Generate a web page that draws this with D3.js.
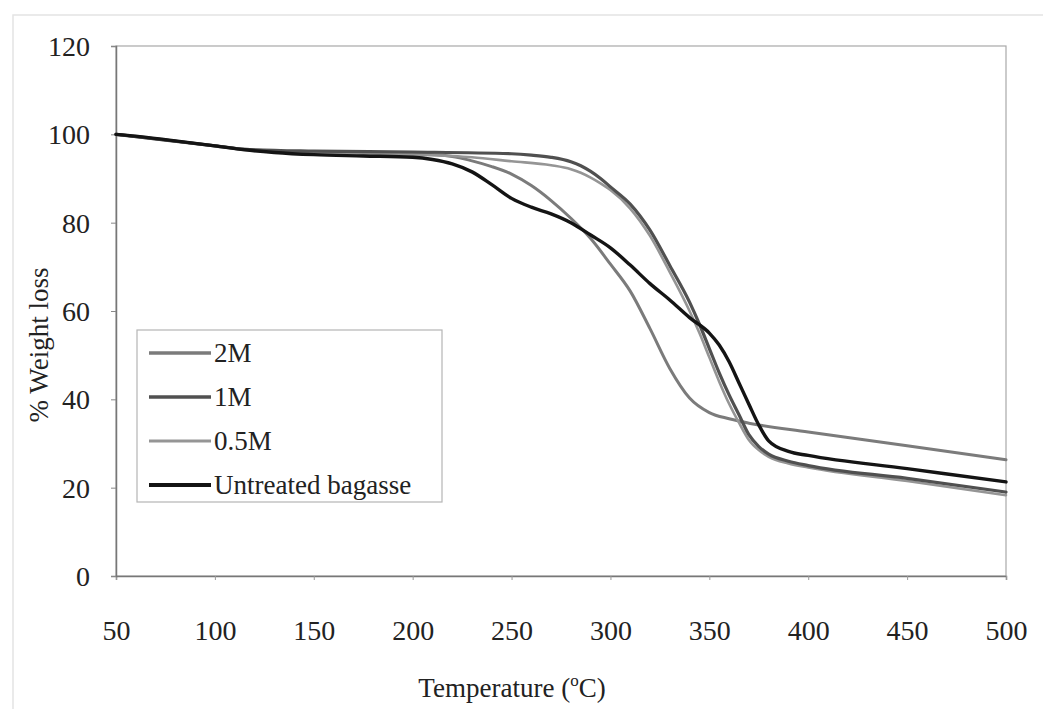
<!DOCTYPE html>
<html><head><meta charset="utf-8">
<script src="https://cdn.jsdelivr.net/npm/d3@7"></script>
<style>body{margin:0;background:#fff}svg{display:block}</style>
</head><body>
<svg id="chart" width="1043" height="709"></svg>
<script>
const xTicks = [50,100,150,200,250,300,350,400,450,500];
const yTicks = [0,20,40,60,80,100,120];
const seriesNames = ["2M","1M","0.5M","Untreated bagasse"];

const tempUntreated = [50,60,75,100,115,130,150,175,200,210,220,230,240,250,260,270,280,290,300,310,320,330,340,350,355,360,365,370,375,380,390,400,450,500];
const wUntreated    = [100,99.6,98.8,97.4,96.5,95.9,95.4,95.1,94.8,94.3,93.3,91.5,88.6,85.5,83.5,82,80,77.2,74.3,70.4,66.2,62.5,58.5,55,52.3,48.5,43.7,38.9,34.2,30.6,28.2,27.3,24.3,21.3];

const temp2M = [50,75,100,115,150,200,220,230,240,250,260,270,280,290,300,310,320,330,340,350,360,370,400,450,500];
const w2M    = [100,98.7,97.4,96.6,96,95.6,95,94,92.7,91,88.4,85,81,76.4,70.6,64.5,56,47,40.3,37,35.6,34.6,32.6,29.5,26.3];

const temp1M = [50,75,100,115,150,200,250,260,270,280,285,290,295,300,310,320,330,340,345,350,355,360,365,370,375,380,390,400,450,500];
const w1M    = [100,98.7,97.4,96.6,96.2,96,95.6,95.3,94.8,93.8,92.9,91.6,90,88.1,84.2,78.3,70.3,62,57,51.5,46,41,36.5,32,29.3,27.6,26,25,22.1,19];

const temp05M = [50,75,100,115,150,200,230,250,270,280,285,290,295,300,310,320,330,340,345,350,355,360,365,370,375,380,390,400,450,500];
const w05M    = [100,98.7,97.4,96.6,95.8,95.4,94.8,93.9,93,92.1,91.3,90.2,88.9,87.4,83.2,77,68.8,60,55,49.5,44,39,34.7,30.8,28.5,27,25.5,24.6,21.5,18.3];

const colors = ["#7b7b7b","#505050","#959595","#141414"];
const widths = [3,3.2,2.6,3.4];
const seriesT = [temp2M,temp1M,temp05M,tempUntreated];
const seriesW = [w2M,w1M,w05M,wUntreated];

const svg = d3.select("#chart");
const font = "'Liberation Serif','Times New Roman',serif";

// faint outer frame
svg.append("rect").attr("x",13).attr("y",15).attr("width",1035).attr("height",700)
  .attr("fill","none").attr("stroke","#e4e4e4").attr("stroke-width",1.5);

const x = d3.scaleLinear().domain([50,500]).range([116,1006]);
const y = d3.scaleLinear().domain([0,120]).range([576,46]);

// plot area frame
svg.append("rect").attr("x",116).attr("y",46).attr("width",890).attr("height",530)
  .attr("fill","none").attr("stroke","#a8a8a8").attr("stroke-width",1.2);

// axes
const xAxis = svg.append("g").attr("transform","translate(0,576)")
  .call(d3.axisBottom(x).tickValues(xTicks).tickSize(4).tickFormat(d3.format("d")));
xAxis.attr("font-family",font);
xAxis.select(".domain").attr("stroke","#777").attr("stroke-width",1.5);
xAxis.selectAll(".tick line").attr("stroke","#999");
xAxis.selectAll("text").attr("font-family",font).attr("font-size",28).attr("fill","#222")
  .attr("dy",0).attr("y",64);

const yAxis = svg.append("g").attr("transform","translate(116,0)")
  .call(d3.axisLeft(y).tickValues(yTicks).tickSize(5).tickFormat(d3.format("d")));
yAxis.attr("font-family",font);
yAxis.select(".domain").attr("stroke","#777").attr("stroke-width",1.5);
yAxis.selectAll(".tick line").attr("stroke","#888");
yAxis.selectAll("text").attr("font-family",font).attr("font-size",28).attr("fill","#222")
  .attr("x",-26).attr("dy","0.34em");

// lines
const line = d3.line().x(d=>x(d[0])).y(d=>y(d[1])).curve(d3.curveMonotoneX);
const order = [0,2,1,3];
order.forEach(i=>{
  const pts = seriesT[i].map((t,j)=>[t,seriesW[i][j]]);
  svg.append("path").datum(pts).attr("d",line)
    .attr("fill","none").attr("stroke",colors[i]).attr("stroke-width",widths[i])
    .attr("stroke-linejoin","round").attr("stroke-linecap","round");
});

// legend
const lg = svg.append("g");
lg.append("rect").attr("x",137).attr("y",330).attr("width",305).attr("height",172)
  .attr("fill","#fff").attr("stroke","#b5b5b5").attr("stroke-width",1.2);
const ly = [353,397,441,485];
seriesNames.forEach((n,i)=>{
  lg.append("line").attr("x1",149).attr("x2",211).attr("y1",ly[i]).attr("y2",ly[i])
    .attr("stroke",colors[i]).attr("stroke-width",widths[i]+0.4);
  lg.append("text").attr("x",214).attr("y",ly[i]).attr("dy","0.35em")
    .attr("font-family",font).attr("font-size",27).attr("fill","#222").text(n);
});

// axis titles
const xt = svg.append("text").attr("x",512).attr("y",697).attr("text-anchor","middle")
  .attr("font-family",font).attr("font-size",27).attr("fill","#222");
xt.append("tspan").text("Temperature (");
xt.append("tspan").attr("font-size",17).attr("dy",-11).text("o");
xt.append("tspan").attr("dy",11).text("C)");

svg.append("text").attr("transform","translate(48,345) rotate(-90)").attr("text-anchor","middle")
  .attr("font-family",font).attr("font-size",27).attr("fill","#222").text("% Weight loss");
</script>
</body></html>
